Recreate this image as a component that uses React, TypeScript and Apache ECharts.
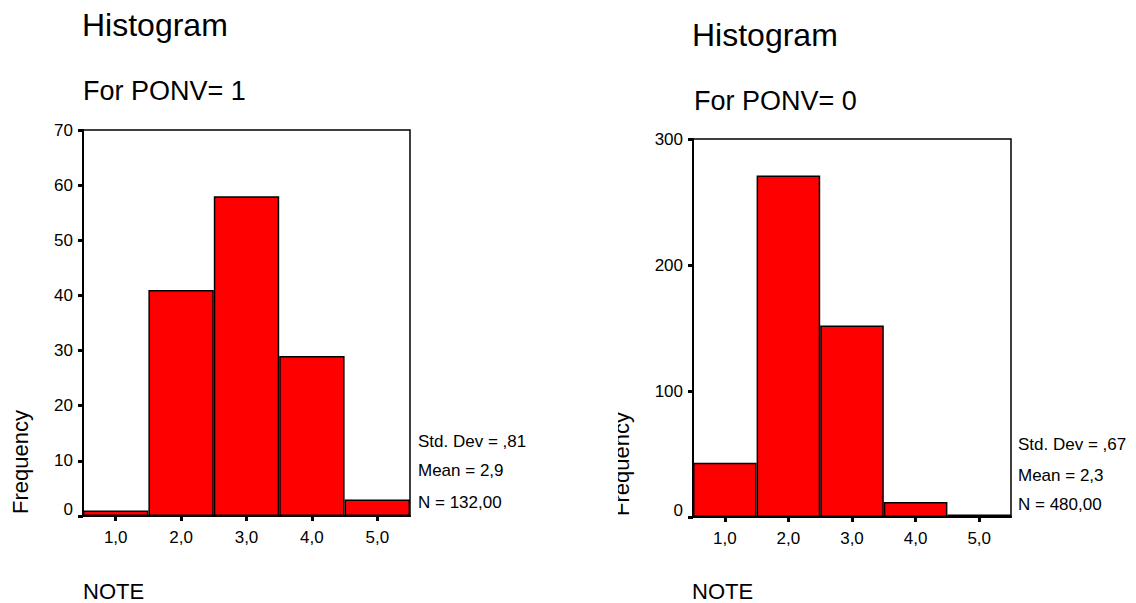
import React, { useEffect, useRef } from "react";
import * as echarts from "echarts";

const categories = ["1,0", "2,0", "3,0", "4,0", "5,0"];
const ponv1Values = [1, 41, 58, 29, 3];
const ponv0Values = [43, 271, 152, 12, 2];
const ponv1Stats = ["Std. Dev = ,81", "Mean = 2,9", "N = 132,00"];
const ponv0Stats = ["Std. Dev = ,67", "Mean = 2,3", "N = 480,00"];
const titleText = "Histogram";
const subtitle1 = "For PONV= 1";
const subtitle0 = "For PONV= 0";
const yName = "Frequency";
const xName = "NOTE";

const FONT = "'Liberation Sans', Arial, Helvetica, sans-serif";

function txt(text: string, x: number, y: number, size: number, extra: any = {}) {
  return {
    type: "text",
    x,
    y,
    z: 10,
    ...extra,
    style: {
      text,
      fontSize: size,
      fontFamily: FONT,
      fill: "#000",
      align: extra.align || "left",
      verticalAlign: "middle",
    },
  };
}

export default function App() {
  const ref = useRef<HTMLDivElement>(null);
  useEffect(() => {
    if (!ref.current) return;
    const chart = echarts.init(ref.current, null, { renderer: "svg" });

    const xAxisBase = (gridIndex: number) => ({
      type: "category",
      gridIndex,
      data: categories,
      boundaryGap: true,
      axisLine: { show: true, lineStyle: { color: "#000", width: 2 } },
      axisTick: { show: true, alignWithLabel: true, length: 5, lineStyle: { color: "#000", width: 3 } },
      axisLabel: { color: "#000", fontSize: 17, fontFamily: FONT, margin: 13 },
      splitLine: { show: false },
    });
    const yAxisBase = (gridIndex: number, max: number, interval: number) => ({
      type: "value",
      gridIndex,
      min: 0,
      max,
      interval,
      axisLine: { show: true, lineStyle: { color: "#000", width: 2 } },
      axisTick: { show: true, length: 5, lineStyle: { color: "#000", width: 3 } },
      axisLabel: {
        color: "#000",
        fontSize: 17,
        fontFamily: FONT,
        margin: 10,
        formatter: (v: number) => (v === 0 ? "{z|0}" : String(v)),
        rich: { z: { fontSize: 17, fontFamily: FONT, color: "#000", padding: [0, 0, 14, 0] } },
      },
      splitLine: { show: false },
    });

    const barStyle = { color: "#ff0000", borderColor: "#000", borderWidth: 1.5 };

    const statsGraphics = (lines: string[], x: number, ys: number[]) =>
      lines.map((l, i) => txt(l, x, ys[i], 17));

    chart.setOption({
      animation: false,
      backgroundColor: "#fff",
      grid: [
        { left: 83, top: 130, width: 327, height: 386, show: true, borderColor: "#000", borderWidth: 1.5, backgroundColor: "transparent" },
        { left: 693, top: 139, width: 318, height: 378, show: true, borderColor: "#000", borderWidth: 1.5, backgroundColor: "transparent" },
      ],
      xAxis: [xAxisBase(0), xAxisBase(1)],
      yAxis: [yAxisBase(0, 70, 10), yAxisBase(1, 300, 100)],
      series: [
        { type: "bar", xAxisIndex: 0, yAxisIndex: 0, data: ponv1Values, barCategoryGap: "0%", itemStyle: barStyle },
        { type: "bar", xAxisIndex: 1, yAxisIndex: 1, data: ponv0Values, barCategoryGap: "0%", itemStyle: barStyle },
      ],
      graphic: [
        txt(titleText, 82, 25, 32),
        txt(subtitle1, 83, 91, 27),
        txt(titleText, 692, 35, 32),
        txt(subtitle0, 694, 101, 27),
        txt(xName, 83, 591, 22),
        txt(xName, 692, 591, 22),
        txt(yName, 20.5, 462, 22, { rotation: Math.PI / 2, align: "center" }),
        txt(yName, 621.5, 464, 22, { rotation: Math.PI / 2, align: "center" }),
        { type: "rect", z: 11, shape: { x: 596, y: 395, width: 22, height: 130 }, style: { fill: "#fff" } },
        ...statsGraphics(ponv1Stats, 418, [441.5, 470.5, 502.5]),
        ...statsGraphics(ponv0Stats, 1018, [444.5, 475.5, 504.5]),
      ],
    });
    return () => chart.dispose();
  }, []);
  return (
    <div
      ref={ref}
      style={{ position: "absolute", left: 0, top: 0, width: 1136, height: 603 }}
    />
  );
}
